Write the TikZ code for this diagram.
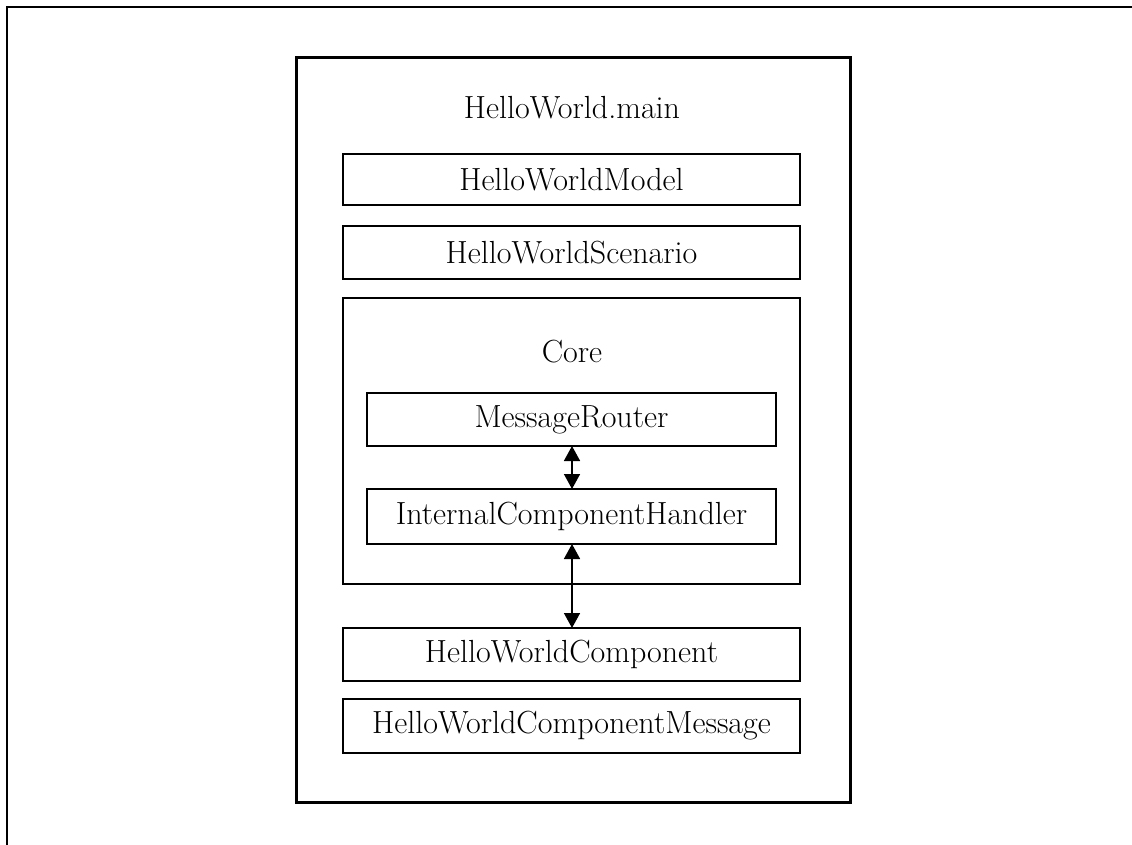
\documentclass[tikz,border=0pt]{standalone}
\usetikzlibrary{arrows.meta}
\begin{document}
\begin{tikzpicture}[x=1pt,y=-1pt,
  box/.style={draw,line width=1.6pt,minimum height=0pt,inner sep=0pt},
  lbl/.style={font=\fontsize{32}{38}\selectfont},
  dbl/.style={line width=1.6pt,{Triangle[width=16pt,length=15pt]}-{Triangle[width=16pt,length=15pt]}}
]
\useasboundingbox (0,0) rectangle (1132,845);
\draw[line width=2.4pt] (7,7) rectangle (1140,860);
\draw[line width=3pt] (296,58) rectangle (850,802);
\node[lbl] (title) at (572,108) {HelloWorld.main};
\draw[box] (343,154) rectangle (800,205) node[midway,lbl] (model) {HelloWorldModel};
\draw[box] (343,226) rectangle (800,279) node[midway,lbl] (scen) {HelloWorldScenario};
\draw[box] (343,298) rectangle (800,584);
\node[lbl] (core) at (572,352) {Core};
\draw[box] (367,393) rectangle (776,446) node[midway,lbl] (mr) {MessageRouter};
\coordinate (mrb) at (572,446);
\draw[box] (367,489) rectangle (776,544) node[midway,lbl] (ich) {InternalComponentHandler};
\coordinate (icht) at (572,489);
\coordinate (ichb) at (572,544);
\draw[box] (343,628) rectangle (800,681) node[midway,lbl] (hwc) {HelloWorldComponent};
\coordinate (hwct) at (572,628);
\draw[box] (343,699) rectangle (800,753) node[midway,lbl] (hwcm) {HelloWorldComponentMessage};
\draw[dbl] (mrb) -- (icht);
\draw[dbl] (ichb) -- (hwct);
\end{tikzpicture}
\end{document}
